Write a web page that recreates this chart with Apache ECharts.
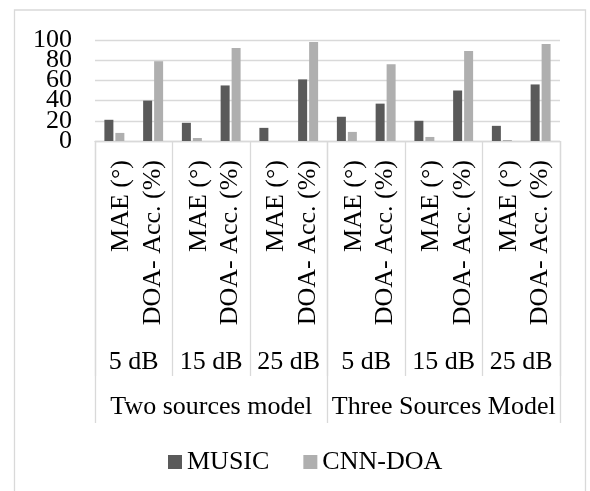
<!DOCTYPE html>
<html>
<head>
<meta charset="utf-8">
<script src="https://cdn.jsdelivr.net/npm/echarts@6/dist/echarts.min.js"></script>
<style>html,body{margin:0;padding:0;background:#fff;}#c{width:590px;height:491px;}</style>
</head>
<body>
<div id="c"></div>
<script>
const metrics = ['MAE (°)', 'DOA- Acc. (%)'];
const snrs = ['5 dB', '15 dB', '25 dB'];
const models = ['Two sources model', 'Three Sources Model'];
const seriesNames = ['MUSIC', 'CNN-DOA'];
const musicValues = [21, 40, 18, 55, 13, 61, 24, 37, 20, 50, 15, 56];
const cnnValues = [8, 79, 3, 92, 0, 98, 9, 76, 4, 89, 1, 96];
const yTicks = [0, 20, 40, 60, 80, 100];

const categories = [];
const snrCats = [];
models.forEach(function () {
  snrs.forEach(function (s) {
    snrCats.push(s);
    metrics.forEach(function (m) { categories.push(m); });
  });
});

const FONT = "'Liberation Serif', 'Times New Roman', serif";
const LINE = '#d9d9d9';

function yAxisPart(parity, withGrid) {
  return {
    type: 'value', min: 0, max: 100, interval: 20, position: 'left',
    axisLine: { show: false, onZero: false }, axisTick: { show: false },
    axisLabel: { margin: 23, fontFamily: FONT, fontSize: 26, color: '#000',
      showMinLabel: true, showMaxLabel: true,
      formatter: function (v) {
        const k = yTicks.indexOf(v);
        return k >= 0 && k % 2 === parity ? String(v) : '';
      } },
    splitLine: { show: withGrid, lineStyle: { color: LINE, width: 1.3 } }
  };
}

const chart = echarts.init(document.getElementById('c'), null, { renderer: 'canvas' });
chart.setOption({
  animation: false,
  backgroundColor: '#fff',
  graphic: [{
    type: 'rect', shape: { x: 14.5, y: 10, width: 571, height: 500 },
    style: { fill: 'none', stroke: LINE, lineWidth: 1.3 }, silent: true, z: -1
  }],
  grid: { left: 95, right: 30, top: 40, bottom: 350, containLabel: false },
  legend: {
    data: seriesNames, left: 163, top: 444, itemWidth: 14, itemHeight: 14, itemGap: 34,
    icon: 'rect',
    textStyle: { fontFamily: FONT, fontSize: 26, color: '#000', padding: [0, 0, 0, 0] }
  },
  xAxis: [
    {
      type: 'category', data: categories, position: 'bottom',
      axisLine: { show: true, onZero: false, lineStyle: { color: LINE, width: 1.3 } },
      axisTick: { show: false },
      axisLabel: {
        interval: 0, rotate: 90, margin: 19, fontFamily: FONT, fontSize: 26, color: '#000',
        formatter: function (v, i) { return i % 2 === 0 ? '{sp| }\n{t|' + v + '}' : '{t|' + v + '}'; },
        rich: {
          sp: { fontSize: 2, lineHeight: 14 },
          t: { fontFamily: FONT, fontSize: 26, lineHeight: 26, color: '#000' }
        }
      },
      splitLine: { show: false }
    },
    {
      type: 'category', data: snrCats, position: 'bottom', offset: 235, gridIndex: 0,
      axisLine: { show: false, onZero: false },
      axisTick: { show: true, inside: true, length: 235, interval: 0, lineStyle: { color: LINE, width: 1.3 } },
      axisLabel: { interval: 0, inside: true, margin: 1, fontFamily: FONT, fontSize: 26, lineHeight: 26, color: '#000' }
    },
    {
      type: 'category', data: models, position: 'bottom', offset: 282, gridIndex: 0,
      axisLine: { show: false, onZero: false },
      axisTick: { show: true, inside: true, length: 282, interval: 0, lineStyle: { color: LINE, width: 1.3 } },
      axisLabel: { interval: 0, inside: true, margin: 3, fontFamily: FONT, fontSize: 26, lineHeight: 26, color: '#000' }
    }
  ],
  yAxis: [yAxisPart(0, true), yAxisPart(1, false)],
  series: [
    { name: seriesNames[0], type: 'bar', xAxisIndex: 0, yAxisIndex: 0, data: musicValues, barWidth: 9, barGap: '22%',
      itemStyle: { color: '#5a5a5a' } },
    { name: seriesNames[1], type: 'bar', xAxisIndex: 0, yAxisIndex: 0, data: cnnValues, barWidth: 9, barGap: '22%',
      itemStyle: { color: '#afafaf' } }
  ]
});
</script>
</body>
</html>
